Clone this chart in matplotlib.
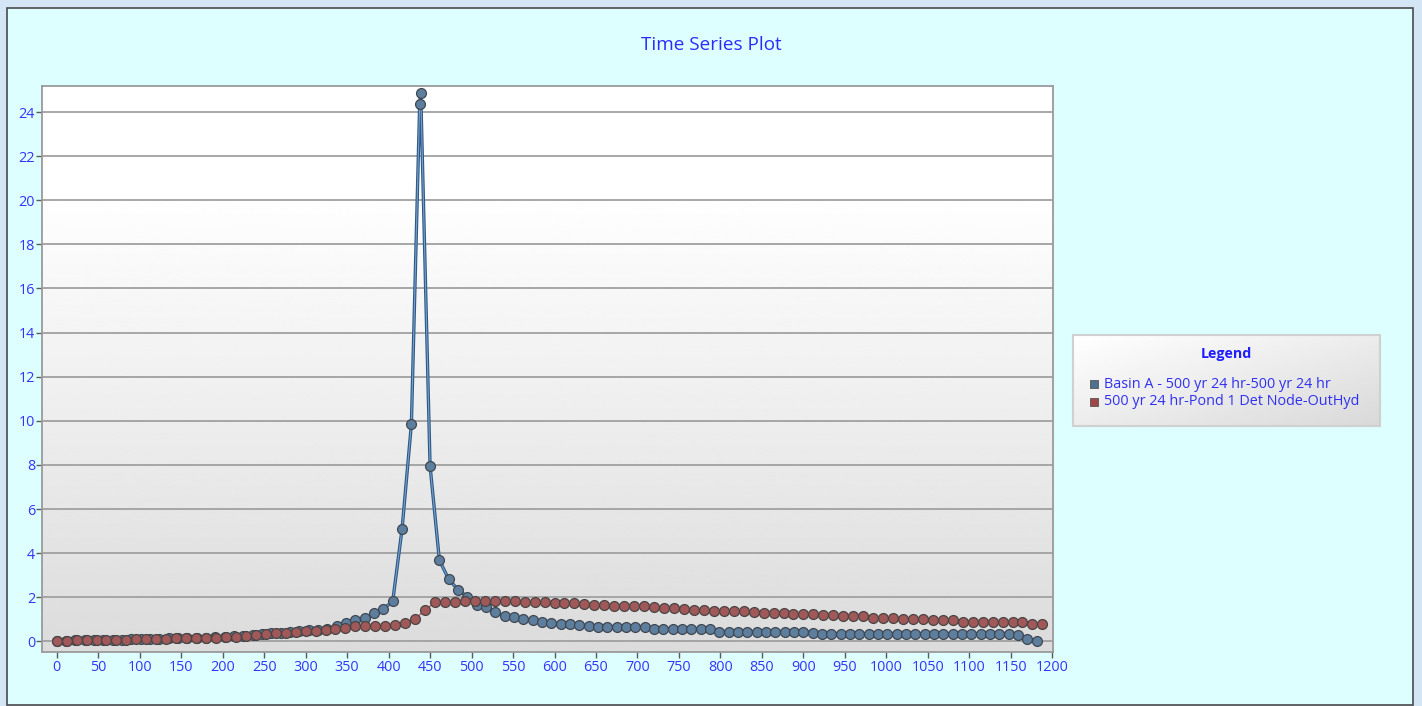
import numpy as np
import matplotlib
matplotlib.use("Agg")
import matplotlib.pyplot as plt
from matplotlib.patches import Rectangle

plt.rcParams['font.family'] = ['Open Sans', 'DejaVu Sans']

# ---------------- data ----------------
title = "Time Series Plot"
series_names = ["Basin A - 500 yr 24 hr-500 yr 24 hr",
                "500 yr 24 hr-Pond 1 Det Node-OutHyd"]

# Basin A inflow hydrograph: regular 11.25 step plus the peak time point
blue_step = 11.25
blue_time = list(np.arange(0, 1182, blue_step))
blue_time.insert(39, 437.5)
blue_flow = [0.02, 0.03, 0.07, 0.08, 0.08, 0.08, 0.08, 0.08, 0.10, 0.12,
             0.12, 0.12, 0.14, 0.17, 0.17, 0.17, 0.17, 0.19, 0.21, 0.23,
             0.26, 0.30, 0.34, 0.37, 0.40, 0.44, 0.47, 0.50, 0.53, 0.58,
             0.68, 0.83, 0.98, 1.08, 1.27, 1.47, 1.82, 5.09, 9.85, 24.37, 24.88,
             7.96, 3.68, 2.82, 2.34, 2.02, 1.66, 1.54, 1.33, 1.13, 1.10,
             1.01, 0.95, 0.87, 0.83, 0.79, 0.79, 0.75, 0.72, 0.67, 0.67,
             0.67, 0.67, 0.64, 0.64, 0.55, 0.55, 0.55, 0.55, 0.55, 0.55,
             0.55, 0.44, 0.44, 0.44, 0.44, 0.44, 0.44, 0.44, 0.44, 0.44,
             0.44, 0.40,
             0.35, 0.35, 0.35, 0.35, 0.35, 0.35, 0.35, 0.35, 0.35, 0.35,
             0.35, 0.35, 0.35, 0.35, 0.35, 0.35, 0.35, 0.35, 0.35, 0.35, 0.35,
             0.30, 0.09, 0.03]

# Pond outflow hydrograph: 12 step
red_step = 12
red_time = list(np.arange(0, 1189, red_step))
red_flow = [0.02, 0.03, 0.07, 0.08, 0.08, 0.08, 0.08, 0.08, 0.12, 0.12,
            0.12, 0.12, 0.17, 0.17, 0.17, 0.17, 0.17, 0.21, 0.21, 0.26,
            0.28, 0.34, 0.37, 0.40, 0.43, 0.47, 0.49, 0.50, 0.56, 0.63,
            0.70, 0.72, 0.71, 0.72, 0.74, 0.83, 1.03, 1.42, 1.78, 1.78,
            1.80, 1.83, 1.83, 1.83, 1.83, 1.83, 1.83, 1.80, 1.78, 1.77,
            1.74, 1.74, 1.72, 1.69, 1.65, 1.63, 1.61, 1.60, 1.60, 1.59,
            1.58, 1.53, 1.52, 1.47, 1.44, 1.44, 1.39, 1.39, 1.39, 1.36,
            1.33, 1.30, 1.30, 1.29, 1.24, 1.24, 1.24, 1.18, 1.18, 1.13,
            1.13, 1.13, 1.06, 1.06, 1.06, 1.03, 1.01, 1.01, 0.98, 0.95,
            0.95, 0.90, 0.90, 0.90, 0.90, 0.87, 0.87, 0.87, 0.80, 0.80]

x_ticks = list(range(0, 1201, 50))
y_ticks = list(range(0, 25, 2))

# ---------------- figure ----------------
W, H = 1422, 706
fig = plt.figure(figsize=(W / 100, H / 100), dpi=100)
fig.patch.set_facecolor('#D4E6F6')
fig.patches.append(Rectangle((7 / W, 1 - 705 / H), (1413 - 7) / W, (705 - 8) / H,
                             transform=fig.transFigure, facecolor='#DDFFFF',
                             edgecolor='#4A4A4A', lw=1.2, zorder=-5))

fig.text(711 / W, 1 - 45 / H, title, ha='center', va='center',
         color='#2B2BFF', fontsize=13.6)

ax = fig.add_axes([42 / W, 1 - 652 / H, (1053 - 42) / W, (652 - 86) / H])
ax.set_facecolor('white')
g = np.linspace(0, 1, 256)
shade = 1 - 0.14 * np.clip((g - 0.18) / 0.82, 0, 1)
ax.imshow(shade[:, None], cmap='gray', vmin=0, vmax=1, extent=[0, 1, 0, 1],
          transform=ax.transAxes, aspect='auto', zorder=0, interpolation='bilinear')

ax.plot(blue_time, blue_flow, color='#2C5A88', lw=2.4, zorder=3,
        solid_joinstyle='round')
ax.plot(blue_time, blue_flow, color='#7B9FC8', lw=0.8, zorder=3.1)
ax.plot(blue_time, blue_flow, ls='none', marker='o', ms=7.1, mfc='#5E7E9E',
        mec='#3F4852', mew=0.9, zorder=4)
ax.plot(red_time, red_flow, color='#C85A5A', lw=1.0, zorder=5)
ax.plot(red_time, red_flow, ls='none', marker='o', ms=7.1, mfc='#A05858',
        mec='#4A4444', mew=0.9, zorder=6)

ax.set_xlim(-17.7, 1200.8)
ax.set_ylim(-0.48, 25.18)
ax.set_xticks(x_ticks)
ax.set_yticks(y_ticks)
ax.tick_params(colors='#5A5A5A', labelcolor='#3333FF', labelsize=10.4,
               length=4, width=1)
ax.tick_params(axis='y', pad=1)
ax.tick_params(axis='x', pad=2)
ax.set_axisbelow(True)
ax.grid(axis='y', color='#A0A0A0', lw=1.3)
for s in ax.spines.values():
    s.set_color('#9A9A9A')
    s.set_linewidth(1.3)

# ---------------- legend ----------------
lax = fig.add_axes([1073.3 / W, 1 - 426 / H, 306.7 / W, 91 / H])
lax.set_xlim(0, 1)
lax.set_ylim(0, 1)
lax.axis('off')
jj, ii = np.meshgrid(np.linspace(0, 1, 200), np.linspace(0, 1, 60))
lg = 1 - 0.15 * (0.5 * jj + 0.5 * ii)
lax.imshow(lg, cmap='gray', vmin=0, vmax=1, extent=[0, 1, 0, 1],
           aspect='auto', zorder=0, interpolation='bilinear')
lax.add_patch(Rectangle((0, 0), 1, 1, fill=False, ec='#D0D0D0', lw=1.5,
                        transform=lax.transAxes, clip_on=False, zorder=2))
lax.text(0.5, 0.791, "Legend", ha='center', va='center', fontweight='bold',
         color='#1E1EFF', fontsize=10.3)
swatch_colors = ['#4F6F8F', '#A04848']
for k, (name, c) in enumerate(zip(series_names, swatch_colors)):
    yy = [0.4615, 0.267][k]
    lax.plot([0.0675], [yy], ls='none', marker='s', ms=6.3, mfc=c,
             mec='#555555', mew=0.6, zorder=3)
    lax.text(0.101, yy, name, ha='left', va='center', color='#3030F0',
             fontsize=10.4, zorder=3)

fig.savefig('out.png', dpi=100, facecolor=fig.get_facecolor())
